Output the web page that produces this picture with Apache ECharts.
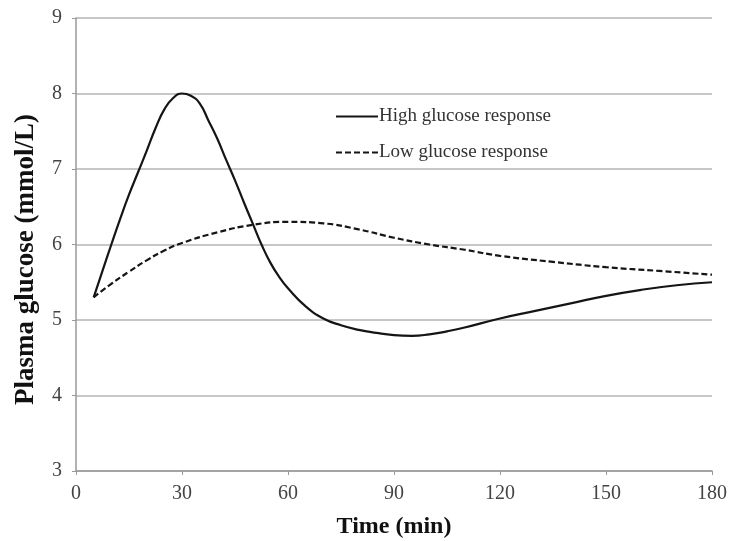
<!DOCTYPE html>
<html><head><meta charset="utf-8">
<script src="https://cdn.jsdelivr.net/npm/echarts@6/dist/echarts.min.js"></script>
<style>html,body{margin:0;padding:0;background:#fff}#c{width:733px;height:541px}</style>
</head><body><div id="c"></div>
<script>
var xTicks = [0, 30, 60, 90, 120, 150, 180];
var yTicks = [3, 4, 5, 6, 7, 8, 9];
var highName = 'High glucose response';
var lowName = 'Low glucose response';
var highTime = [5, 7.5, 10, 12.5, 15, 17.5, 20, 22.5, 25, 27.5, 30, 32.5, 35, 37.5, 40, 42.5, 45, 47.5, 50, 52.5, 55, 57.5, 60, 65, 70, 75, 80, 85, 90, 95, 100, 105, 110, 120, 130, 140, 150, 160, 170, 180];
var highGlucose = [5.3, 5.65, 6.0, 6.34, 6.66, 6.95, 7.24, 7.54, 7.79, 7.94, 8.0, 7.97, 7.87, 7.64, 7.4, 7.12, 6.85, 6.56, 6.28, 6.0, 5.76, 5.57, 5.42, 5.18, 5.02, 4.93, 4.87, 4.83, 4.8, 4.79, 4.81, 4.85, 4.9, 5.02, 5.12, 5.22, 5.32, 5.4, 5.46, 5.5];
var lowTime = [5, 10, 15, 20, 25, 30, 40, 50, 60, 70, 80, 90, 100, 110, 120, 135, 150, 165, 180];
var lowGlucose = [5.3, 5.48, 5.64, 5.79, 5.92, 6.02, 6.16, 6.26, 6.3, 6.28, 6.2, 6.09, 6.0, 5.93, 5.85, 5.77, 5.7, 5.65, 5.6];

function pairs(xs, ys) { return xs.map(function (x, i) { return [x, ys[i]]; }); }

var serif = '"Liberation Serif", "DejaVu Serif", serif';
var chart = echarts.init(document.getElementById('c'), null, { renderer: 'canvas' });
chart.setOption({
  animation: false,
  backgroundColor: '#fff',
  grid: { left: 76, right: 21, top: 18, bottom: 70, containLabel: false, outerBoundsMode: 'none' },
  legend: {
    orient: 'vertical', left: 330, top: 102, itemWidth: 42, itemHeight: 12, itemGap: 17,
    itemStyle: { opacity: 0 },
    textStyle: { fontFamily: serif, fontSize: 19, color: '#333', padding: [0, 0, 0, -4] },
    data: [highName, lowName]
  },
  xAxis: {
    type: 'value', min: 0, max: 180, interval: 30,
    name: 'Time (min)', nameLocation: 'middle', nameGap: 44,
    nameTextStyle: { fontFamily: serif, fontSize: 24, fontWeight: 'bold', color: '#111' },
    axisLine: { lineStyle: { color: '#999', width: 1.5 } },
    axisTick: { show: true, length: 4, lineStyle: { color: '#999' } },
    axisLabel: { fontFamily: serif, fontSize: 20, color: '#444', margin: 13 },
    splitLine: { show: false }
  },
  yAxis: {
    type: 'value', min: 3, max: 9, interval: 1,
    name: 'Plasma glucose (mmol/L)', nameLocation: 'middle', nameGap: 36, nameRotate: 90,
    nameTextStyle: { fontFamily: serif, fontSize: 27, fontWeight: 'bold', color: '#111', padding: [0, 30, 0, 0] },
    axisLine: { show: true, lineStyle: { color: '#999', width: 1.5 } },
    axisTick: { show: true, length: 4, lineStyle: { color: '#999' } },
    axisLabel: { fontFamily: serif, fontSize: 20, color: '#444', margin: 14 },
    splitLine: { show: true, lineStyle: { color: '#b4b4b4', width: 1.5 } }
  },
  series: [
    {
      name: highName, type: 'line', smooth: 0.5, symbol: 'none',
      lineStyle: { color: '#151515', width: 2.2 }, itemStyle: { color: '#151515' },
      data: pairs(highTime, highGlucose)
    },
    {
      name: lowName, type: 'line', smooth: 0.5, symbol: 'none',
      lineStyle: { color: '#151515', width: 2.2, type: [6, 3] }, itemStyle: { color: '#151515' },
      data: pairs(lowTime, lowGlucose)
    }
  ]
});
</script></body></html>
